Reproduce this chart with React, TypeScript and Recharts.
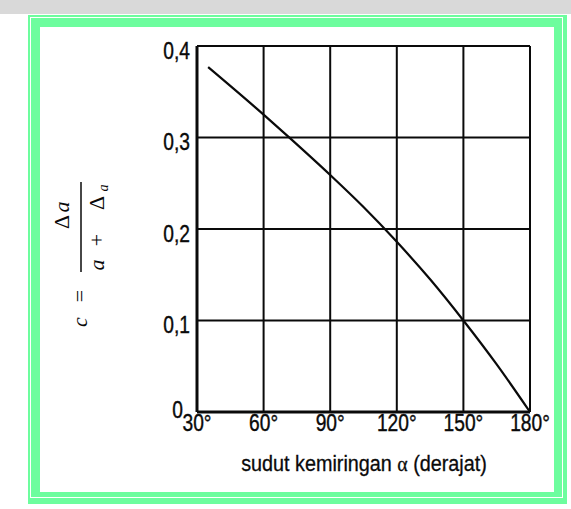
import React from 'react';
import { LineChart, Line, XAxis, YAxis, CartesianGrid } from 'recharts';

// sudut kemiringan (derajat) vs c
const angles = [35, 60, 72, 90, 105, 120, 135, 150, 165, 180];
const cValues = [0.377, 0.325, 0.299, 0.259, 0.224, 0.186, 0.145, 0.1, 0.052, 0];
const xTicks = [30, 60, 90, 120, 150, 180];
const yTicks = [0, 0.1, 0.2, 0.3, 0.4];
const xTitle = 'sudut kemiringan';
const xUnit = '(derajat)';

const data = angles.map((a, i) => ({ a, c: cValues[i] }));

const sans = '"Liberation Sans", Arial, sans-serif';
const serif = '"Liberation Serif", "DejaVu Serif", serif';
const ink = '#0a0a0a';

const YTick = (props: any) => {
  const { x, y, payload } = props;
  const v = payload.value;
  const label = v === 0 ? '0' : v.toFixed(1).replace('.', ',');
  const tx = v === 0 ? x - 7 : x;
  const ty = v === 0 ? y - 3 : y + 4;
  return (
    <text transform={`translate(${tx},${ty}) scale(0.8,1)`} dy="0.355em" textAnchor="end"
      fontFamily={sans} fontSize={24} fill={ink} stroke={ink} strokeWidth={0.4}>
      {label}
    </text>
  );
};

const XTick = (props: any) => {
  const { x, y, payload } = props;
  return (
    <text transform={`translate(${x},${y}) scale(0.8,1)`} dy="0.71em" textAnchor="middle"
      fontFamily={sans} fontSize={24} fill={ink} stroke={ink} strokeWidth={0.4}>
      {payload.value}°
    </text>
  );
};

const XLabel = () => (
  <text transform="translate(364,471) scale(0.9,1)" textAnchor="middle" fontFamily={sans} fontSize={22}
    fill={ink} stroke={ink} strokeWidth={0.3}>
    {xTitle} <tspan fontFamily={serif}>α</tspan> {xUnit}
  </text>
);

// c = Δa / (a + Δa), rotated
const YLabel = () => (
  <g transform="translate(80,250) rotate(-90)" fontFamily={serif} fontSize={22} fill={ink}>
    <text x={-72} y={7} textAnchor="middle" fontStyle="italic">c</text>
    <text x={-46} y={7} textAnchor="middle">=</text>
    <line x1={-22} x2={68} y1={1} y2={1} stroke={ink} strokeWidth={1.5} />
    <text x={28} y={-11} textAnchor="middle">Δ</text>
    <text x={43} y={-11} textAnchor="middle" fontStyle="italic">a</text>
    <text x={-15} y={24} textAnchor="middle" fontStyle="italic">a</text>
    <text x={10} y={24} textAnchor="middle">+</text>
    <text x={47} y={24} textAnchor="middle">Δ</text>
    <text x={62} y={28} textAnchor="middle" fontStyle="italic" fontSize={14}>a</text>
  </g>
);

export default function App() {
  return (
    <div style={{ position: 'absolute', left: 0, top: 0, width: 571, height: 509, background: '#fff', overflow: 'hidden' }}>
      <div style={{ position: 'absolute', left: 0, top: 0, width: 571, height: 14, background: '#d9d9d9' }} />
      <div style={{ position: 'absolute', left: 28, top: 15, width: 539, height: 489, background: '#6dfd9e' }}>
        <div style={{ position: 'absolute', left: 2, top: 2, right: 4, bottom: 6, border: '1px solid #fff' }} />
        <div style={{ position: 'absolute', left: 12, top: 12, width: 514, height: 465, background: '#fff' }} />
      </div>
      <div style={{ position: 'absolute', left: 0, top: 0 }}>
        <LineChart width={571} height={509} data={data} margin={{ top: 46, right: 41, bottom: 67, left: 137 }}>
          <CartesianGrid stroke={ink} strokeWidth={2} />
          <XAxis type="number" dataKey="a" domain={[30, 180]} ticks={xTicks} interval={0}
            axisLine={{ stroke: ink, strokeWidth: 3 }} tickLine={false} tickSize={0} tickMargin={2}
            height={30} tick={<XTick />} label={<XLabel />} />
          <YAxis type="number" domain={[0, 0.4]} ticks={yTicks} interval={0}
            axisLine={{ stroke: ink, strokeWidth: 3 }} tickLine={false} tickSize={0} tickMargin={7}
            width={60} tick={<YTick />} label={<YLabel />} />
          <Line type="monotone" dataKey="c" stroke={ink} strokeWidth={2.2} dot={false} isAnimationActive={false} />
        </LineChart>
      </div>
    </div>
  );
}
